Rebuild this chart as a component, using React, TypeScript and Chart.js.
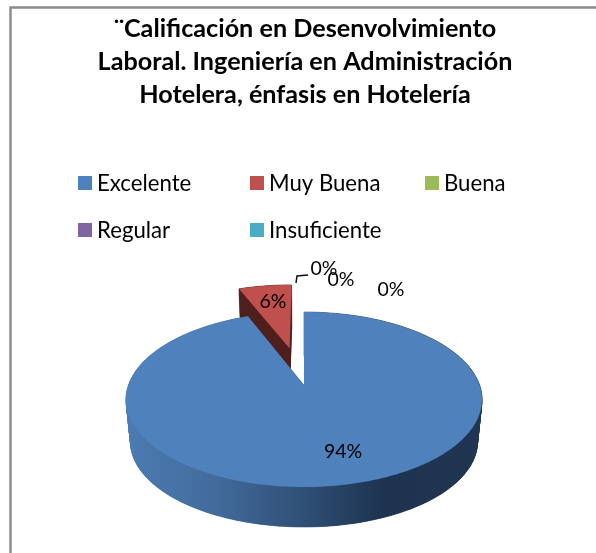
import React, { useEffect, useRef } from "react";
import { Chart, registerables } from "chart.js";

Chart.register(...registerables);

const titleLines = [
  "¨Calificación en Desenvolvimiento",
  "Laboral. Ingeniería en Administración",
  "Hotelera, énfasis en Hotelería",
];
const categories = ["Excelente", "Muy Buena", "Buena", "Regular", "Insuficiente"];
const values = [94, 6, 0, 0, 0];
const colors = ["#4F81BD", "#C0504D", "#9BBB59", "#8064A2", "#4BACC6"];
const sideColors = ["#2F4F75", "#4F1F1E", "#5D7035", "#4C3C61", "#2D6776"];

const FONT = "Lato, Carlito, 'Open Sans', sans-serif";
const CX = 304;
const CY = 385;
const A = 175.5;
const B = 85.1;
const K = -0.166;
const DEPTH = 42.5;
const BOTTOM_SCALE = 0.975;
const EXPLODE = [0, 0.47, 0, 0, 0];

type Pt = [number, number];

function project(a: number, r: number, d: number, midAngle: number, bottom: boolean): Pt {
  const u = r * Math.cos(a) + d * Math.cos(midAngle);
  const v = r * Math.sin(a) + d * Math.sin(midAngle);
  const w = 1 + K * v;
  const s = bottom ? BOTTOM_SCALE : 1;
  return [CX + (s * A * u) / w, CY + (bottom ? DEPTH : 0) + (s * B * v) / w];
}

function tracePoly(ctx: CanvasRenderingContext2D, pts: Pt[]) {
  ctx.beginPath();
  pts.forEach((p, i) => (i ? ctx.lineTo(p[0], p[1]) : ctx.moveTo(p[0], p[1])));
  ctx.closePath();
}

const pie3d = {
  id: "pie3d",
  beforeDatasetDraw(chart: any) {
    const ctx: CanvasRenderingContext2D = chart.ctx;
    const arcs = chart.getDatasetMeta(0).data;
    const order = arcs
      .map((_: any, i: number) => i)
      .filter((i: number) => arcs[i].circumference > 0)
      .sort((a: number, b: number) => EXPLODE[b] - EXPLODE[a]);

    order.forEach((i: number) => {
      const { startAngle, endAngle } = arcs[i];
      const mid = (startAngle + endAngle) / 2;
      const d = EXPLODE[i];
      const n = Math.max(8, Math.ceil((endAngle - startAngle) * 60));
      const angles: number[] = [];
      for (let k = 0; k <= n; k++) angles.push(startAngle + ((endAngle - startAngle) * k) / n);

      const topRim = angles.map((a) => project(a, 1, d, mid, false));
      const botRim = angles.map((a) => project(a, 1, d, mid, true));
      const topTip = project(0, 0, d, mid, false);
      const botTip = project(0, 0, d, mid, true);

      // side walls
      let side: string | CanvasGradient = sideColors[i];
      if (i === 0) {
        const g = ctx.createLinearGradient(127, 0, 483, 0);
        g.addColorStop(0, "#4B7BB2");
        g.addColorStop(0.25, "#426B9B");
        g.addColorStop(0.5, "#2F4F75");
        g.addColorStop(0.72, "#1D334F");
        g.addColorStop(1, "#1F3551");
        side = g;
      }
      ctx.fillStyle = side;
      ctx.strokeStyle = side;
      ctx.lineWidth = 0.6;
      tracePoly(ctx, [botTip, ...botRim]);
      ctx.fill();
      for (let k = 0; k < n; k++) {
        tracePoly(ctx, [topRim[k], topRim[k + 1], botRim[k + 1], botRim[k]]);
        ctx.fill();
        ctx.stroke();
      }
      tracePoly(ctx, [topTip, topRim[0], botRim[0], botTip]);
      ctx.fill();
      tracePoly(ctx, [topTip, topRim[n], botRim[n], botTip]);
      ctx.fill();

      // top face
      ctx.fillStyle = colors[i];
      tracePoly(ctx, [topTip, ...topRim]);
      ctx.fill();
    });
    return false;
  },
  afterDraw(chart: any) {
    const ctx: CanvasRenderingContext2D = chart.ctx;
    const total = values.reduce((s, v) => s + v, 0);
    const pct = (v: number) => `${Math.round((v / total) * 100)}%`;

    // legend
    const legendCols = [78, 250, 425];
    const legendRows = [184, 231];
    ctx.textAlign = "left";
    ctx.textBaseline = "middle";
    ctx.font = `22.2px ${FONT}`;
    categories.forEach((c, i) => {
      const x = legendCols[i % 3];
      const y = legendRows[Math.floor(i / 3)];
      ctx.fillStyle = colors[i];
      ctx.fillRect(x, y - 8, 14, 14);
      ctx.fillStyle = "#000";
      ctx.fillText(c, x + 19, y);
    });

    // data labels
    const labelPos: Pt[] = [
      [343, 452],
      [273, 302],
      [324, 269],
      [341, 280],
      [391, 290],
    ];
    ctx.textAlign = "center";
    ctx.font = `19.5px ${FONT}`;
    ctx.fillStyle = "#000";
    values.forEach((v, i) => ctx.fillText(pct(v), labelPos[i][0], labelPos[i][1]));

    // leader line
    ctx.strokeStyle = "#111";
    ctx.lineWidth = 1.5;
    ctx.beginPath();
    ctx.moveTo(296, 283);
    ctx.lineTo(297, 276);
    ctx.lineTo(308, 275);
    ctx.stroke();
  },
};

const frame = {
  id: "frame",
  beforeDraw(chart: any) {
    const ctx: CanvasRenderingContext2D = chart.ctx;
    ctx.fillStyle = "#fff";
    ctx.fillRect(0, 0, 596, 553);
    ctx.strokeStyle = "#8C8C8C";
    ctx.lineWidth = 2.5;
    ctx.beginPath();
    ctx.moveTo(10.5, 553);
    ctx.lineTo(10.5, 7.5);
    ctx.lineTo(596, 7.5);
    ctx.stroke();
  },
};

export default function App() {
  const ref = useRef<HTMLCanvasElement>(null);
  useEffect(() => {
    document.body.style.margin = "0";
    const chart = new Chart(ref.current!, {
      type: "pie",
      data: {
        labels: categories,
        datasets: [{ data: values, backgroundColor: colors, borderWidth: 0 }],
      },
      options: {
        responsive: false,
        animation: false,
        layout: { padding: { left: 14, top: 12 } },
        plugins: {
          legend: { display: false },
          tooltip: { enabled: false },
          title: {
            display: true,
            text: titleLines,
            color: "#000",
            font: { family: FONT, size: 25.2, weight: "bold", lineHeight: 1.31 },
            padding: { top: 0, bottom: 0 },
          },
        },
      },
      plugins: [frame, pie3d],
    } as any);
    return () => chart.destroy();
  }, []);
  return <canvas ref={ref} width={596} height={553} style={{ display: "block" }} />;
}
